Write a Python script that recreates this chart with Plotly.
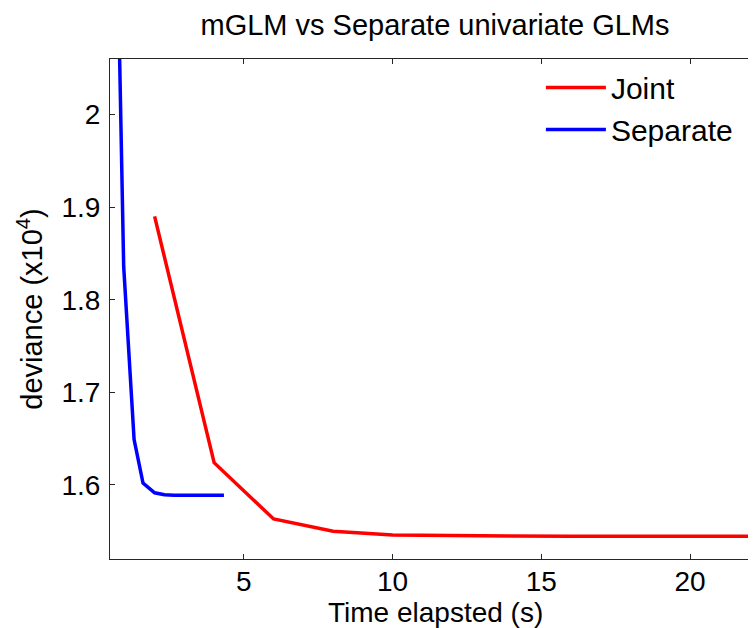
import plotly.graph_objects as go

# time elapsed (s) and deviance (x10^4)
joint_time = [2.0, 4.0, 6.0, 8.0, 10.0, 12.0, 14.0, 16.0, 18.0, 20.0, 22.3]
joint_dev = [1.890, 1.624, 1.5632, 1.550, 1.546, 1.5450, 1.5448, 1.5447, 1.5447, 1.5447, 1.5447]

sep_time = [0.63, 0.96, 1.31, 1.61, 2.0, 2.33, 2.66, 3.0, 3.33, 3.66, 4.0, 4.33]
sep_dev = [2.38, 1.836, 1.649, 1.602, 1.5915, 1.5893, 1.5889, 1.5888, 1.5888, 1.5888, 1.5888, 1.5888]

x_ticks = [5, 10, 15, 20]
y_ticks = [1.6, 1.7, 1.8, 1.9, 2.0]
y_ticktext = ["1.6", "1.7", "1.8", "1.9", "2"]

FONT = "Liberation Sans, Arial, sans-serif"

fig = go.Figure()
fig.add_trace(go.Scatter(x=joint_time, y=joint_dev, mode="lines", name="Joint",
                         line={"color": "#ff0000", "width": 3.5}))
fig.add_trace(go.Scatter(x=sep_time, y=sep_dev, mode="lines", name="Separate",
                         line={"color": "#0000ff", "width": 3.5}))

axis_common = dict(
    showline=True, linecolor="#262626", linewidth=1, mirror="ticks",
    ticks="inside", ticklen=5, tickcolor="#262626",
    showgrid=False, zeroline=False,
    tickfont={"size": 28, "color": "black", "family": FONT},
)

fig.update_layout(
    width=756, height=628,
    margin={"l": 102, "r": 4, "t": 51, "b": 77},
    paper_bgcolor="white", plot_bgcolor="white",
    font={"family": FONT, "color": "black"},
    title={"text": "mGLM vs Separate univariate GLMs", "xref": "paper", "x": 0.5,
           "xanchor": "center", "y": 0.99, "yanchor": "top", "font": {"size": 29}},
    xaxis=dict(axis_common, range=[0.5, 22.35], tickvals=x_ticks, ticklabelstandoff=-3),
    yaxis=dict(axis_common, range=[1.52, 2.06], tickvals=y_ticks, ticktext=y_ticktext,
               ticklabelstandoff=3,
               title={"text": "deviance (x10<sup>4</sup>)", "font": {"size": 29}, "standoff": 10}),
    legend={"x": 0.966, "y": 0.995, "xanchor": "right", "yanchor": "top",
            "bgcolor": "rgba(0,0,0,0)", "font": {"size": 30}, "itemwidth": 60,
            "tracegroupgap": 0},
)

# x-axis title as an annotation so it sits tight under the tick labels
fig.add_annotation(text="Time elapsted (s)", xref="paper", yref="paper", x=0.5, y=-0.141,
                   xanchor="center", yanchor="bottom", showarrow=False,
                   font={"size": 28, "color": "black"})

fig.write_html("out.html")
